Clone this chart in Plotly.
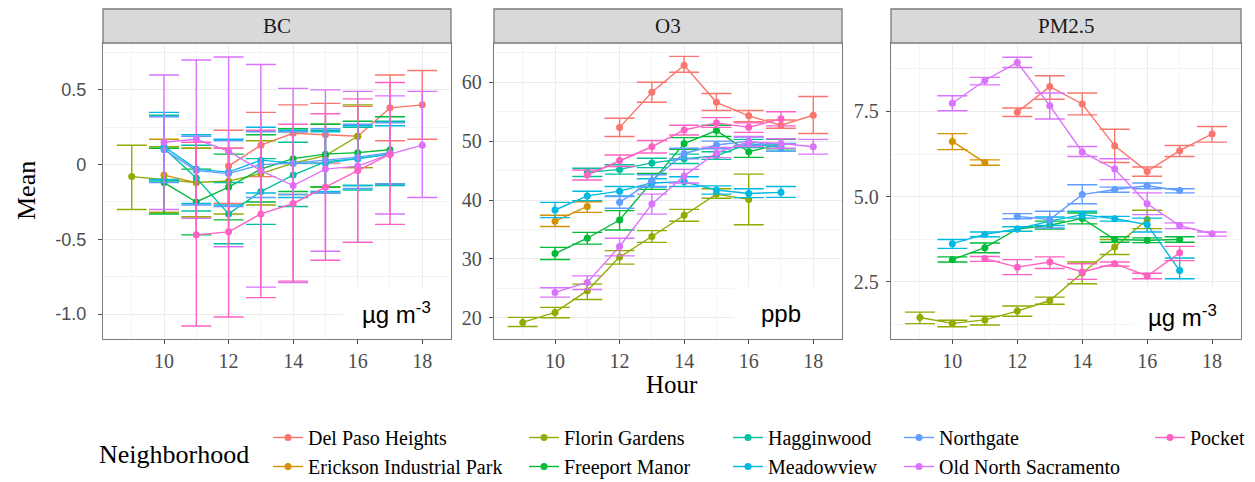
import plotly.graph_objects as go

# ---------------- data ----------------
NEIGHBORHOODS = ["Del Paso Heights", "Erickson Industrial Park", "Florin Gardens",
                 "Freeport Manor", "Hagginwood", "Meadowview", "Northgate",
                 "Old North Sacramento", "Pocket"]
COLORS = ["#F8766D", "#D39200", "#93AA00", "#00BA38", "#00C19F",
          "#00B9E3", "#619CFF", "#DB72FB", "#FF61C3"]
PANELS = ["BC", "O3", "PM2.5"]
UNITS = ["µg m<sup>-3</sup>", "ppb", "µg m<sup>-3</sup>"]
X_TICKS = [10, 12, 14, 16, 18]
BC_TICKS = [-1.0, -0.5, 0, 0.5]
BC_TICKTEXT = ["-1.0", "-0.5", "0", "0.5"]
O3_TICKS = [20, 30, 40, 50, 60]
O3_TICKTEXT = ["20", "30", "40", "50", "60"]
PM_TICKS = [2.5, 5.0, 7.5]
PM_TICKTEXT = ["2.5", "5.0", "7.5"]

# each series: (hours, mean, lower, upper)
# ---- BC ----
bc_del_paso = ([12, 13, 14, 15, 16, 17, 18],
               [-0.01, 0.13, 0.21, 0.20, 0.19, 0.38, 0.40],
               [-0.26, -0.08, 0.01, 0.01, -0.02, 0.16, 0.17],
               [0.23, 0.35, 0.40, 0.41, 0.39, 0.60, 0.63])
bc_erickson = ([10, 11], [-0.07, -0.12], [-0.32, -0.35], [0.17, 0.11])
bc_florin = ([9, 10, 11, 12, 13, 14, 15, 16],
             [-0.08, -0.10, -0.12, -0.11, -0.06, 0.01, 0.06, 0.19],
             [-0.30, -0.32, -0.35, -0.33, -0.27, -0.20, -0.15, -0.02],
             [0.13, 0.12, 0.11, 0.11, 0.16, 0.22, 0.27, 0.40])
bc_freeport = ([10, 11, 12, 13, 14, 15, 16, 17],
               [-0.12, -0.25, -0.15, -0.03, 0.04, 0.07, 0.08, 0.10],
               [-0.33, -0.47, -0.37, -0.25, -0.18, -0.15, -0.14, -0.13],
               [0.11, -0.03, 0.07, 0.20, 0.24, 0.27, 0.29, 0.32])
bc_hagginwood = ([10, 11, 12, 13, 14, 15, 16, 17],
                 [0.11, -0.09, -0.33, -0.18, -0.07, 0.02, 0.04, 0.07],
                 [-0.11, -0.31, -0.53, -0.40, -0.28, -0.19, -0.17, -0.14],
                 [0.33, 0.13, -0.12, 0.04, 0.15, 0.23, 0.25, 0.29])
bc_meadowview = ([10, 11, 12, 13, 14, 15, 16, 17],
                 [0.12, -0.03, -0.05, 0.03, 0.01, 0.01, 0.04, 0.07],
                 [-0.10, -0.26, -0.27, -0.19, -0.22, -0.18, -0.14, -0.13],
                 [0.35, 0.20, 0.17, 0.25, 0.23, 0.22, 0.26, 0.26])
bc_northgate = ([10, 11, 12, 13, 14, 15, 16, 17],
                [0.10, -0.04, -0.06, 0.00, 0.01, 0.03, 0.05, 0.08],
                [-0.12, -0.27, -0.28, -0.22, -0.20, -0.19, -0.16, -0.13],
                [0.32, 0.19, 0.16, 0.22, 0.22, 0.24, 0.27, 0.28])
bc_old_north = ([10, 11, 12, 13, 14, 15, 16, 17, 18],
                [0.15, 0.17, 0.09, -0.04, -0.14, -0.03, -0.01, 0.07, 0.13],
                [-0.30, -0.36, -0.55, -0.82, -0.79, -0.58, -0.52, -0.33, -0.22],
                [0.60, 0.70, 0.72, 0.67, 0.51, 0.50, 0.49, 0.46, 0.49])
bc_pocket = ([11, 12, 13, 14, 15, 16, 17],
             [-0.47, -0.45, -0.33, -0.26, -0.15, -0.04, 0.07],
             [-1.08, -1.02, -0.89, -0.78, -0.64, -0.52, -0.40],
             [0.15, 0.11, 0.23, 0.27, 0.34, 0.44, 0.55])

# ---- O3 ----
o3_del_paso = ([12, 13, 14, 15, 16, 17, 18],
               [52.3, 58.3, 62.9, 56.6, 54.3, 52.7, 54.4],
               [50.8, 56.6, 61.7, 55.2, 53.3, 52.2, 51.3],
               [53.9, 60.0, 64.4, 58.1, 55.2, 53.6, 57.6])
o3_erickson = ([10, 11], [36.4, 38.9], [35.5, 37.9], [37.4, 39.7])
o3_florin = ([9, 10, 11, 12, 13, 14, 15, 16],
             [19.2, 20.9, 24.6, 30.3, 33.8, 37.4, 41.0, 40.1],
             [18.5, 20.0, 23.1, 29.1, 32.8, 36.4, 40.3, 35.8],
             [20.05, 21.75, 25.7, 31.4, 34.8, 38.4, 41.9, 44.4])
o3_freeport = ([10, 11, 12, 13, 14, 15, 16, 17],
               [30.9, 33.5, 36.6, 43.1, 49.6, 51.8, 48.2, 49.5],
               [29.9, 32.5, 34.9, 41.8, 48.6, 50.8, 47.25, 48.7],
               [31.95, 34.5, 38.2, 44.5, 50.6, 52.7, 49.2, 50.3])
o3_hagginwood = ([11, 12, 13, 14, 15, 16, 17],
                 [44.7, 45.2, 46.3, 47.0, 47.5, 49.6, 48.9],
                 [44.0, 44.4, 45.5, 46.2, 46.9, 48.9, 48.3],
                 [45.4, 46.0, 47.1, 47.8, 48.2, 50.3, 49.5])
o3_meadowview = ([10, 11, 12, 13, 14, 15, 16, 17],
                 [38.3, 40.7, 41.5, 42.9, 43.1, 41.7, 41.1, 41.3],
                 [37.0, 39.9, 40.7, 42.2, 42.3, 41.0, 40.4, 40.45],
                 [39.6, 41.5, 42.3, 43.6, 43.95, 42.4, 41.9, 42.3])
o3_northgate = ([12, 13, 14, 15, 16, 17],
                [39.6, 43.3, 47.9, 49.35, 50.0, 48.95],
                [38.6, 42.3, 47.0, 48.7, 49.3, 48.3],
                [40.6, 44.3, 48.8, 50.0, 50.7, 49.6])
o3_old_north = ([10, 11, 12, 13, 14, 15, 16, 17, 18],
                [24.3, 26.0, 32.1, 39.3, 44.1, 48.0, 49.9, 49.6, 49.05],
                [23.5, 24.8, 30.5, 37.6, 42.9, 47.2, 49.1, 48.8, 47.8],
                [25.1, 27.1, 33.5, 41.0, 45.2, 48.95, 50.8, 50.4, 50.3])
o3_pocket = ([11, 12, 13, 14, 15, 16, 17],
             [44.25, 46.7, 49.05, 51.9, 53.1, 52.35, 53.8],
             [43.4, 45.7, 48.0, 51.05, 52.35, 51.5, 52.6],
             [45.1, 47.65, 50.1, 52.7, 54.0, 53.1, 55.0])

# ---- PM2.5 ----
pm_del_paso = ([12, 13, 14, 15, 16, 17, 18],
               [7.48, 8.23, 7.72, 6.49, 5.74, 6.35, 6.84],
               [7.35, 7.86, 7.40, 6.00, 5.60, 6.18, 6.60],
               [7.60, 8.55, 8.04, 6.98, 5.87, 6.50, 7.06])
pm_erickson = ([10, 11], [6.62, 6.00], [6.38, 5.92], [6.85, 6.08])
pm_florin = ([9, 10, 11, 12, 13, 14, 15, 16],
             [1.45, 1.28, 1.38, 1.64, 1.95, 2.76, 3.52, 4.33],
             [1.27, 1.18, 1.23, 1.49, 1.84, 2.44, 3.30, 4.06],
             [1.61, 1.37, 1.49, 1.79, 2.05, 3.08, 3.74, 4.60])
pm_freeport = ([10, 11, 12, 13, 14, 15, 16, 17],
               [3.15, 3.50, 4.05, 4.16, 4.36, 3.74, 3.72, 3.74],
               [3.08, 3.35, 3.98, 4.05, 4.20, 3.66, 3.65, 3.66],
               [3.23, 3.64, 4.12, 4.28, 4.52, 3.82, 3.79, 3.82])
pm_hagginwood = ([], [], [], [])
pm_meadowview = ([10, 11, 12, 13, 14, 15, 16, 17],
                 [3.62, 3.89, 4.05, 4.28, 4.47, 4.35, 4.18, 2.83],
                 [3.48, 3.82, 3.98, 4.15, 4.37, 4.28, 3.96, 2.59],
                 [3.74, 3.96, 4.12, 4.40, 4.57, 4.42, 4.37, 3.20])
pm_northgate = ([12, 13, 14, 15, 16, 17],
                [4.42, 4.33, 5.06, 5.21, 5.32, 5.18],
                [4.35, 4.08, 4.79, 5.13, 5.23, 5.11],
                [4.50, 4.57, 5.35, 5.28, 5.40, 5.23])
pm_old_north = ([10, 11, 12, 13, 14, 15, 16, 17, 18],
                [7.74, 8.41, 8.94, 7.67, 6.31, 5.81, 4.79, 4.15, 3.91],
                [7.52, 8.28, 8.79, 7.28, 6.18, 5.50, 4.47, 4.06, 3.84],
                [7.96, 8.50, 9.09, 8.04, 6.47, 6.11, 5.11, 4.23, 3.96])
pm_pocket = ([11, 12, 13, 14, 15, 16, 17],
             [3.18, 2.93, 3.08, 2.79, 3.03, 2.67, 3.35],
             [3.10, 2.71, 2.89, 2.57, 2.96, 2.59, 3.12],
             [3.24, 3.15, 3.23, 3.03, 3.08, 2.75, 3.54])

SERIES = {
    "BC": [bc_del_paso, bc_erickson, bc_florin, bc_freeport, bc_hagginwood,
           bc_meadowview, bc_northgate, bc_old_north, bc_pocket],
    "O3": [o3_del_paso, o3_erickson, o3_florin, o3_freeport, o3_hagginwood,
           o3_meadowview, o3_northgate, o3_old_north, o3_pocket],
    "PM2.5": [pm_del_paso, pm_erickson, pm_florin, pm_freeport, pm_hagginwood,
              pm_meadowview, pm_northgate, pm_old_north, pm_pocket],
}

# ---------------- layout geometry (pixels) ----------------
W, H = 1255, 482
PANEL_X = [(103, 451), (494, 842), (891, 1241)]
PANEL_TOP, PANEL_BOTTOM, STRIP_TOP = 43, 339, 9
Y_RANGES = [(-1.167, 0.814), (16.38, 66.68), (0.82, 9.51)]
X_RANGE = (8.11, 18.89)
SERIF = "Liberation Serif"
SANS = "Liberation Sans"
BORDER = "#7a7a7a"


def fx(p):
    return p / W


def fy(p):
    return 1 - p / H


fig = go.Figure()
LEGEND_IDS = ["legend", "legend2", "legend3", "legend4", "legend5"]

for pi, panel in enumerate(PANELS):
    ax = "" if pi == 0 else str(pi + 1)
    for ni, (name, color) in enumerate(zip(NEIGHBORHOODS, COLORS)):
        hours, mean, low, high = SERIES[panel][ni]
        if not hours:
            continue
        fig.add_trace(go.Scatter(
            x=hours, y=mean, mode="lines+markers", name=name,
            legendgroup=name, showlegend=(pi == 0),
            legend=LEGEND_IDS[ni // 2],
            line=dict(color=color, width=1.4),
            marker=dict(color=color, size=7),
            error_y=dict(type="data", symmetric=False,
                         array=[h - m for h, m in zip(high, mean)],
                         arrayminus=[m - l for m, l in zip(mean, low)],
                         color=color, thickness=1.4, width=15),
            xaxis="x" + ax, yaxis="y" + ax,
        ))

ytick_sets = [(BC_TICKS, BC_TICKTEXT, 0.25, SANS, 18, 8),
              (O3_TICKS, O3_TICKTEXT, 5, SERIF, 20, 3),
              (PM_TICKS, PM_TICKTEXT, 1.25, SERIF, 20, 3)]

layout = dict(
    width=W, height=H, margin=dict(l=0, r=0, t=0, b=0, autoexpand=False),
    paper_bgcolor="white", plot_bgcolor="white",
    font=dict(family=SERIF, size=21, color="black"),
    showlegend=True,
)

shapes = []
annotations = []
for pi, panel in enumerate(PANELS):
    ax = "" if pi == 0 else str(pi + 1)
    x0, x1 = PANEL_X[pi]
    tv, tt, minor_dt, yfont, ysize, ystand = ytick_sets[pi]
    layout["xaxis" + ax] = dict(
        domain=[fx(x0), fx(x1)], range=list(X_RANGE), anchor="y" + ax,
        automargin=False,
        tickmode="array", tickvals=X_TICKS, ticktext=[str(t) for t in X_TICKS],
        ticks="outside", ticklen=4, tickcolor="#4d4d4d", tickwidth=1,
        tickfont=dict(family=SERIF, size=20, color="#4d4d4d"),
        showgrid=True, gridcolor="#EBEBEB", gridwidth=1,
        minor=dict(tick0=9, dtick=1, showgrid=True, gridcolor="#F4F4F4", gridwidth=0.6),
        showline=True, linecolor=BORDER, linewidth=1.3, mirror=True,
        zeroline=False, fixedrange=True,
    )
    layout["yaxis" + ax] = dict(
        domain=[fy(PANEL_BOTTOM), fy(PANEL_TOP)], range=list(Y_RANGES[pi]),
        anchor="x" + ax, automargin=False,
        tickmode="array", tickvals=tv, ticktext=tt,
        ticks="outside", ticklen=4, tickcolor="#4d4d4d", tickwidth=1,
        ticklabelstandoff=ystand,
        tickfont=dict(family=yfont, size=ysize, color="#4d4d4d"),
        showgrid=True, gridcolor="#EBEBEB", gridwidth=1,
        minor=dict(tick0=0, dtick=minor_dt, showgrid=True, gridcolor="#F4F4F4", gridwidth=0.6),
        showline=True, linecolor=BORDER, linewidth=1.3, mirror=True,
        zeroline=False, fixedrange=True,
    )
    # strip
    shapes.append(dict(type="rect", xref="paper", yref="paper",
                       x0=fx(x0), x1=fx(x1), y0=fy(PANEL_TOP), y1=fy(STRIP_TOP),
                       fillcolor="#D9D9D9", line=dict(color=BORDER, width=1.3),
                       layer="above"))
    annotations.append(dict(xref="paper", yref="paper", x=fx((x0 + x1) / 2),
                            y=fy((PANEL_TOP + STRIP_TOP) / 2), text=panel,
                            showarrow=False, xanchor="center", yanchor="middle",
                            font=dict(family=SERIF, size=21, color="#1a1a1a")))
    # white box behind unit label (covers grid only; no data there)
    bx0 = x0 + 0.69 * (x1 - x0)
    shapes.append(dict(type="rect", xref="paper", yref="paper",
                       x0=fx(bx0), x1=fx(x1 - 1.5), y0=fy(PANEL_BOTTOM - 1.5),
                       y1=fy(PANEL_BOTTOM - 52),
                       fillcolor="white", line=dict(width=0), layer="above"))

unit_pos = [(396, 313), (781, 313), (1182, 316)]
for pi, (ux, uy) in enumerate(unit_pos):
    annotations.append(dict(xref="paper", yref="paper", x=fx(ux), y=fy(uy),
                            text=UNITS[pi], showarrow=False, xanchor="center",
                            yanchor="middle",
                            font=dict(family=SANS, size=24, color="black")))

annotations.append(dict(xref="paper", yref="paper", x=fx(27), y=fy(191), text="Mean",
                        textangle=-90, showarrow=False, xanchor="center", yanchor="middle",
                        font=dict(family=SERIF, size=26, color="black")))
annotations.append(dict(xref="paper", yref="paper", x=fx(672), y=fy(384), text="Hour",
                        showarrow=False, xanchor="center", yanchor="middle",
                        font=dict(family=SERIF, size=25, color="black")))
annotations.append(dict(xref="paper", yref="paper", x=fx(97), y=fy(454),
                        text="Neighborhood", showarrow=False, xanchor="left",
                        yanchor="middle",
                        font=dict(family=SERIF, size=26, color="black")))

text_starts = [308, 564, 768, 939, 1190]
for li, lid in enumerate(LEGEND_IDS):
    layout[lid] = dict(
        x=fx(text_starts[li] - 40), y=fy(418), xanchor="left", yanchor="top",
        orientation="v", bgcolor="rgba(0,0,0,0)", borderwidth=0,
        tracegroupgap=0, itemwidth=30,
        font=dict(family=SERIF, size=20, color="black"),
    )

layout["shapes"] = shapes
layout["annotations"] = annotations
fig.update_layout(**layout)
fig.write_html("out.html", config={"displayModeBar": False},
               post_script="document.body.style.margin='0px';")
